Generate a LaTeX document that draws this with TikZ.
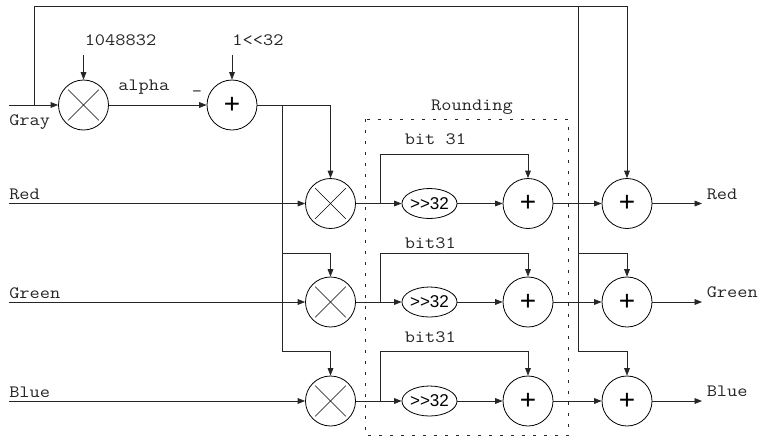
\documentclass[tikz,border=0pt]{standalone}
\usepackage{fontspec}
\setmainfont{Liberation Sans}
\newfontfamily\lmono[FakeStretch=1.143]{Latin Modern Mono}
\usetikzlibrary{arrows.meta,shapes.geometric}
\tikzset{
  x=0.75pt,y=-0.75pt,
  wire/.style={line width=0.6pt,black!85},
  arr/.style={wire,-{Triangle[length=5.6pt,width=4.3pt]}},
  opnode/.style={circle,draw,line width=0.6pt,minimum size=37.5pt,inner sep=0pt},
  mulnode/.style={opnode,path picture={
    \draw[line width=0.45pt] (path picture bounding box.center)+(-11.5pt,-11.5pt) -- +(11.5pt,11.5pt);
    \draw[line width=0.45pt] (path picture bounding box.center)+(-11.5pt,11.5pt) -- +(11.5pt,-11.5pt);}},
  addnode/.style={opnode,font=\fontsize{21}{21}\selectfont},
  shiftnode/.style={ellipse,draw,line width=0.6pt,minimum width=37.5pt,minimum height=22.5pt,inner sep=0pt,font=\fontsize{12.8}{12.8}\selectfont},
  lab/.style={inner sep=0pt,font=\lmono\fontsize{13}{13}\selectfont,black!85}
}
\begin{document}
\begin{tikzpicture}
\useasboundingbox (0,0) rectangle (759,437);
% operators
\node[mulnode] (m0) at (83.5,105) {};
\node[addnode] (a0) at (232,105) {+};
\node[mulnode] (mr) at (330.5,203.5) {};
\node[mulnode] (mg) at (330.5,302) {};
\node[mulnode] (mb) at (330.5,401) {};
\foreach \n/\y in {r/203.5,g/302,b/401}{
  \node[shiftnode] (s\n) at (429.5,\y) {>{}>32};
  \node[addnode] (p\n) at (528,\y) {+};
  \node[addnode] (q\n) at (627,\y) {+};
}
% free ends
\coordinate (inr) at (9,203.5);
\coordinate (ing) at (9,302);
\coordinate (inb) at (9,401);
\coordinate (outr) at (702,203.5);
\coordinate (outg) at (702,302);
\coordinate (outb) at (702,401);
\coordinate (ingray) at (9,105);
\coordinate (gtap) at (34,105);
\coordinate (ttop) at (34,6);
\coordinate (vtop) at (578,6);
\coordinate (c1) at (83.5,55);
\coordinate (c2) at (232,55);
\coordinate (atap) at (282,105);
\coordinate (ag) at (282,253);
\coordinate (ab) at (282,351);
\coordinate (bg) at (578,253);
\coordinate (bb) at (578,351);
\coordinate (tapr) at (380,203.5);
\coordinate (tapg) at (380,302);
\coordinate (tapb) at (380,401);
\coordinate (upr) at (380,154);
\coordinate (upg) at (380,253);
\coordinate (upb) at (380,351);
% labels
\node[lab,anchor=base west] (tgray) at (9,125) {Gray};
\node[lab,anchor=base west] (tred) at (9,199) {Red};
\node[lab,anchor=base west] (tgreen) at (9,298) {Green};
\node[lab,anchor=base west] (tblue) at (9,397) {Blue};
\node[lab,anchor=base] (t1) at (120.5,45) {1048832};
\node[lab,anchor=base] (t2) at (258,45) {1<{}<32};
\node[lab,anchor=base west] (talpha) at (118,90) {alpha};
\node[lab,anchor=base] (tminus) at (197,88) {\_};
\node[lab,anchor=base] (tround) at (472,110.5) {Rounding};
\node[lab,anchor=base west] (tb1) at (404.5,144) {bit 31};
\node[lab,anchor=base west] (tb2) at (404.5,248) {bit31};
\node[lab,anchor=base west] (tb3) at (404.5,342) {bit31};
\node[lab,anchor=base west] (tor) at (706.5,199) {Red};
\node[lab,anchor=base west] (tog) at (706.5,297.5) {Green};
\node[lab,anchor=base west] (tob) at (706.5,396.5) {Blue};
% rounding box
\draw[line width=0.5pt,black!85,dash pattern=on 2.2pt off 6.05pt] (365.5,119) rectangle (568,435.5);
% gray
\draw[arr] (ingray) -- (m0);
\draw[wire] (gtap) -- (ttop) -- (vtop);
\draw[arr] (vtop) -| (qr);
\draw[arr] (c1) -- (m0);
\draw[arr] (c2) -- (a0);
\draw[arr] (m0) -- (a0);
% alpha distribution
\draw[arr] (a0) -| (mr);
\draw[wire] (atap) -- (ab);
\draw[arr] (ag) -| (mg);
\draw[arr] (ab) -| (mb);
% rows
\foreach \n in {r,g,b}{
  \draw[arr] (in\n) -- (m\n);
  \draw[arr] (m\n) -- (s\n);
  \draw[arr] (s\n) -- (p\n);
  \draw[arr] (tap\n) -- (up\n) -| (p\n);
  \draw[arr] (p\n) -- (q\n);
  \draw[arr] (q\n) -- (out\n);
}
% right bus
\draw[wire] (vtop) -- (bb);
\draw[arr] (bg) -| (qg);
\draw[arr] (bb) -| (qb);
\end{tikzpicture}
\end{document}
